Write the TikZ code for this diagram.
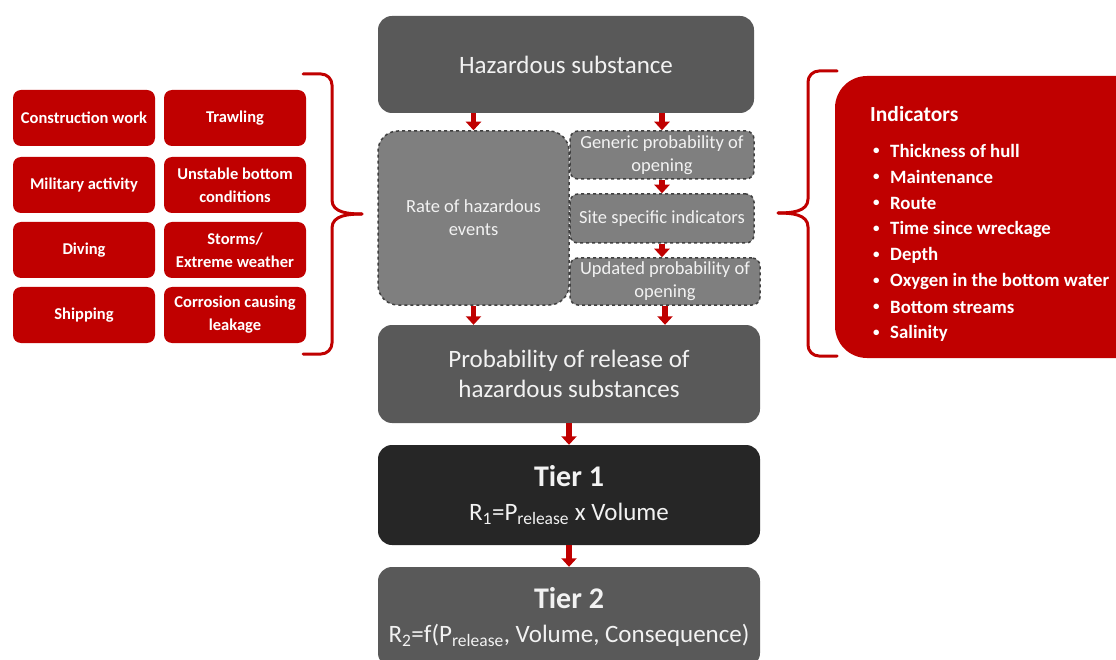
\documentclass[tikz,border=0pt]{standalone}
\usepackage{fontspec}
\setmainfont{Carlito}
\usetikzlibrary{arrows.meta}
\definecolor{brandred}{HTML}{C00000}
\definecolor{boxdark}{HTML}{595959}
\definecolor{boxmid}{HTML}{7F7F7F}
\definecolor{boxline}{HTML}{404040}
\definecolor{boxblack}{HTML}{262626}
\definecolor{softwhite}{HTML}{F2F2F2}
\tikzset{
  causebox/.style={fill=brandred, rounded corners=8pt, text=white, inner sep=0pt,
    font=\bfseries\fontsize{16.5}{23}\selectfont, align=center,
    minimum width=142pt, minimum height=56pt},
  mainbox/.style={fill=boxdark, rounded corners=14pt, text=softwhite, inner sep=0pt,
    align=center, minimum width=382pt},
  subbox/.style={fill=boxmid, draw=boxline, dashed, line width=1.5pt, rounded corners=8pt,
    text=softwhite, inner sep=0pt, align=center,
    font=\fontsize{18.5}{23}\selectfont},
  flow/.style={draw=brandred, line width=5.5pt, -{Triangle[width=15pt,length=8.5pt]}},
  bracket/.style={draw=brandred, line width=3pt, line cap=round},
  indtext/.style={anchor=west, text=white, inner sep=0pt,
    font=\bfseries\fontsize{18.8}{22}\selectfont},
}
\begin{document}
\begin{tikzpicture}[x=1pt,y=-1pt]
\useasboundingbox (0,0) rectangle (1116,660);
\clip (0,0) rectangle (1116,660);
\fill[white] (0,0) rectangle (1116,660);

% central column
\node[mainbox, minimum width=376pt, minimum height=97pt,
  font=\fontsize{25}{30}\selectfont] (haz) at (566,64.5) {Hazardous substance};
\node[subbox, rounded corners=20pt, minimum width=191pt, minimum height=174pt] (rate)
  at (473.5,218) {Rate of hazardous\\events};
\node[subbox, minimum width=184pt, minimum height=48pt] (gen) at (662,155)
  {Generic probability of\\opening};
\node[subbox, minimum width=184pt, minimum height=49pt] (site) at (662,218.5)
  {Site specific indicators};
\node[subbox, minimum width=190pt, minimum height=47pt] (upd) at (665,281.5)
  {Updated probability of\\opening};
\node[mainbox, minimum height=98pt, font=\fontsize{25}{30}\selectfont] (prob) at (569,374)
  {Probability of release of\\hazardous substances};
\node[mainbox, fill=boxblack, minimum height=100pt, font=\fontsize{25}{34}\selectfont] (tier1)
  at (569,495) {{\bfseries\fontsize{30}{34}\selectfont Tier 1}\\
  R\textsubscript{1}=P\textsubscript{release} x Volume};
\node[mainbox, minimum height=100pt, font=\fontsize{25}{34}\selectfont] (tier2)
  at (569,617) {{\bfseries\fontsize{30}{34}\selectfont Tier 2}\\
  R\textsubscript{2}=f(P\textsubscript{release}, Volume, Consequence)};

% flow arrows
\draw[flow] (haz.south -| rate.north) -- (rate.north);
\draw[flow] (haz.south -| gen.north) -- (gen.north);
\draw[flow] (gen.south) -- (site.north);
\draw[flow] (site.south) -- (site.south |- upd.north);
\draw[flow] (rate.south) -- (rate.south |- prob.north);
\draw[flow] (upd.south) -- (upd.south |- prob.north);
\draw[flow] (prob.south) -- (tier1.north);
\draw[flow] (tier1.south) -- (tier2.north);

% causes of hazardous events
\node[causebox] (c1) at (84,118) {Construction work};
\node[causebox] (c2) at (235,118) {Trawling};
\node[causebox] (c3) at (84,185) {Military activity};
\node[causebox] (c4) at (235,185) {Unstable bottom\\conditions};
\node[causebox] (c5) at (84,250) {Diving};
\node[causebox] (c6) at (235,250) {Storms/\\Extreme weather};
\node[causebox] (c7) at (84,315) {Shipping};
\node[causebox] (c8) at (235,315) {Corrosion causing\\leakage};

% left brace
\draw[bracket] (303,74) -- (321,74) to[out=0,in=90] (332,85) -- (332,200)
  to[out=-90,in=180] (362,214);
\draw[bracket] (362,214) to[out=180,in=90] (332,228) -- (332,343)
  to[out=-90,in=0] (321,354) -- (303,354);

% right brace
\draw[bracket] (837,71) -- (819,71) to[out=180,in=90] (808,82) -- (808,199)
  to[out=-90,in=0] (778,213);
\draw[bracket] (778,213) to[out=0,in=90] (808,227) -- (808,345)
  to[out=-90,in=180] (819,356) -- (837,356);

% indicators panel
\node[fill=brandred, rounded corners=32pt, inner sep=0pt, minimum width=330pt,
  minimum height=282pt] (ind) at (1000,217) {};
\node[indtext, font=\bfseries\fontsize{21.5}{25}\selectfont] (indtitle) at (870,114) {Indicators};
\foreach \t [count=\i] in {Thickness of hull, Maintenance, Route, Time since wreckage,
    Depth, Oxygen in the bottom water, Bottom streams, Salinity} {
  \node[indtext, font=\bfseries\fontsize{13}{15}\selectfont] (dot\i) at (873,125+26.1*\i) {•};
  \node[indtext] (item\i) at (890,125+26.1*\i) {\t};
}
\end{tikzpicture}
\end{document}
